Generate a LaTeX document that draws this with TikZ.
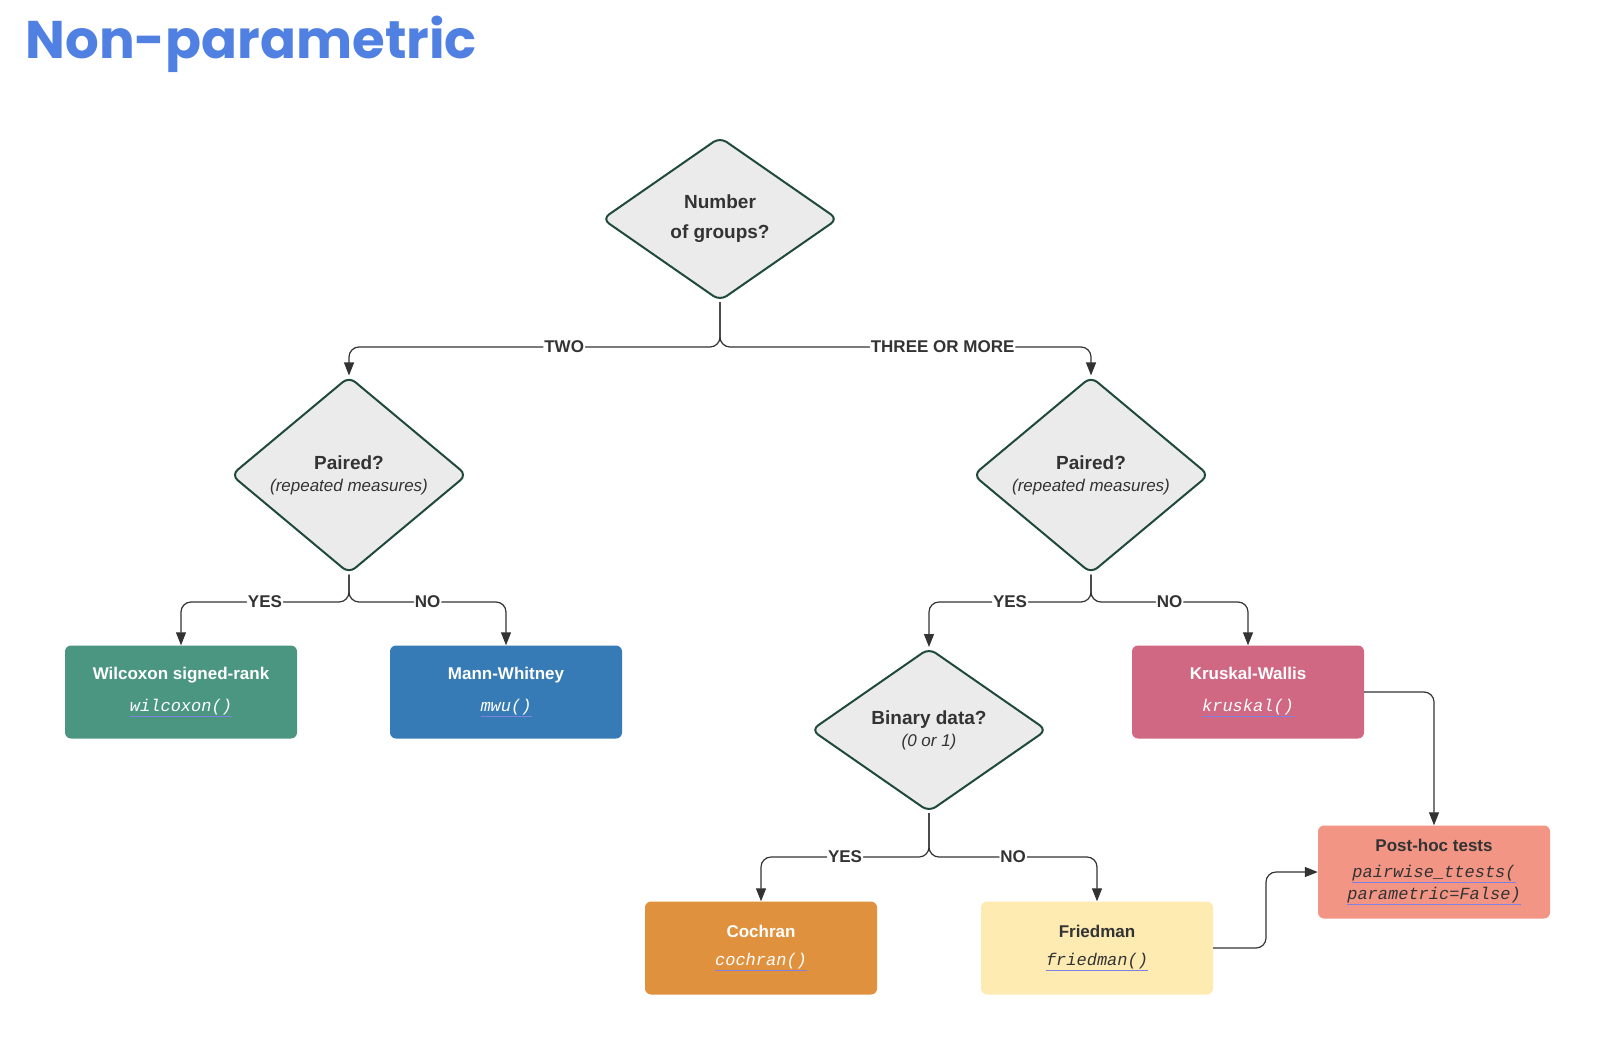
\documentclass[tikz,border=0pt]{standalone}
\usepackage{fontspec}
\setmainfont{Liberation Sans}
\setmonofont{Liberation Mono}
\newfontfamily\titlefont{Poppins}
\usetikzlibrary{shapes.geometric,arrows.meta}
\definecolor{ttl}{HTML}{4F80E2}
\definecolor{dia}{HTML}{EBEBEB}
\definecolor{dedge}{HTML}{1F4A3A}
\definecolor{ink}{HTML}{333333}
\definecolor{ulb}{HTML}{8080E0}
\definecolor{cW}{HTML}{4A9680}
\definecolor{cM}{HTML}{367BB6}
\definecolor{cK}{HTML}{D06884}
\definecolor{cP}{HTML}{F29585}
\definecolor{cC}{HTML}{E0913D}
\definecolor{cF}{HTML}{FDEBB2}
\newcommand\fnw[1]{{\color{ulb}\underline{\color{white}\ttfamily\itshape #1}}}
\newcommand\fnd[1]{{\color{ulb}\underline{\color{ink}\ttfamily\itshape #1}}}
\begin{document}
\begin{tikzpicture}[x=1pt,y=-1pt,
  dec/.style={diamond,draw=dedge,line width=2pt,fill=dia,rounded corners=8pt,inner sep=0pt,minimum width=236pt,minimum height=164pt,align=center,text=ink,font=\fontsize{19}{24}\selectfont},
  box/.style={rectangle,rounded corners=6pt,minimum width=232pt,minimum height=93pt,align=center,font=\fontsize{17}{32}\selectfont},
  con/.style={draw=ink,line width=1.2pt,rounded corners=10pt,-{Triangle[length=13pt,width=10pt]}},
  lab/.style={fill=white,inner sep=1pt,text=ink,font=\bfseries\fontsize{17}{20}\selectfont}]
\useasboundingbox[fill=white] (0,0) rectangle (1600,1036);
\node[anchor=west,text=ttl,font=\titlefont\bfseries\fontsize{53}{56}\selectfont] (title) at (22,44) {Non-parametric};
\node[dec] (d1) at (720,219) {\textbf{Number}\\[6pt]\textbf{of groups?}};
\node[dec] (d2) at (349,475) {\textbf{Paired?}\\[-2pt]{\itshape\fontsize{17}{20}\selectfont (repeated measures)}};
\node[dec] (d3) at (1091,475) {\textbf{Paired?}\\[-2pt]{\itshape\fontsize{17}{20}\selectfont (repeated measures)}};
\node[dec] (d4) at (929,730) {\textbf{Binary data?}\\[-2pt]{\itshape\fontsize{17}{20}\selectfont (0 or 1)}};
\node[box,fill=cW,text=white] (w) at (181,692) {\textbf{Wilcoxon signed-rank}\\\fnw{wilcoxon()}};
\node[box,fill=cM,text=white] (m) at (506,692) {\textbf{Mann-Whitney}\\\fnw{mwu()}};
\node[box,fill=cK,text=white] (k) at (1248,692) {\textbf{Kruskal-Wallis}\\\fnw{kruskal()}};
\node[box,fill=cP,text=ink,font=\fontsize{17}{22}\selectfont] (p) at (1434,872) {\textbf{Post-hoc tests}\\[4pt]\fnd{pairwise\_ttests(}\\\fnd{parametric=False)}};
\node[box,fill=cC,text=white,font=\fontsize{17}{28}\selectfont] (c) at (761,948) {\textbf{Cochran}\\\fnw{cochran()}};
\node[box,fill=cF,text=ink,font=\fontsize{17}{28}\selectfont] (f) at (1097,948) {\textbf{Friedman}\\\fnd{friedman()}};
\coordinate (j1) at (720,347);
\coordinate (j2) at (349,602);
\coordinate (j3) at (1091,602);
\coordinate (j4) at (929,857);
\draw[con] (d1.south) -- (j1) -| node[lab,pos=0.21]{TWO} (d2.north);
\draw[con] (d1.south) -- (j1) -| node[lab,pos=0.3]{THREE OR MORE} (d3.north);
\draw[con] (d2.south) -- (j2) -| node[lab,pos=0.25]{YES} (w.north);
\draw[con] (d2.south) -- (j2) -| node[lab,pos=0.25]{NO} (m.north);
\draw[con] (d3.south) -- (j3) -| node[lab,pos=0.25]{YES} (d4.north);
\draw[con] (d3.south) -- (j3) -| node[lab,pos=0.25]{NO} (k.north);
\draw[con] (d4.south) -- (j4) -| node[lab,pos=0.25]{YES} (c.north);
\draw[con] (d4.south) -- (j4) -| node[lab,pos=0.25]{NO} (f.north);
\draw[con] (k.east) -| (p.north);
\coordinate (fb) at (1266,948);
\draw[con] (f.east) -- (fb) |- (p.west);
\end{tikzpicture}
\end{document}
